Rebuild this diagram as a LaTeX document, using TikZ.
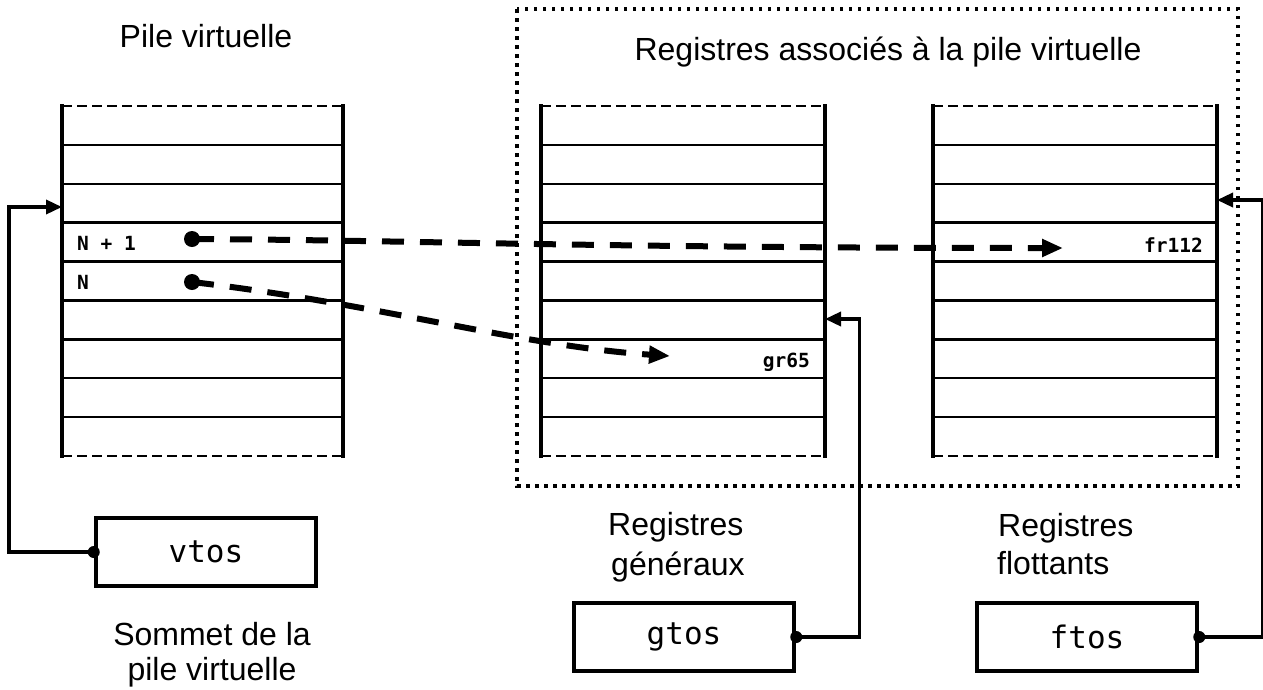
\documentclass[tikz,border=0pt]{standalone}
\usepackage{fontspec}
\setmainfont{Liberation Sans}
\newfontfamily\dvmono{DejaVu Sans Mono}
\usetikzlibrary{arrows.meta,calc}
\begin{document}
\begin{tikzpicture}[x=1pt,y=-1pt,
  lbl/.style={font=\fontsize{32}{38}\selectfont, inner sep=0, anchor=base},
  lblw/.style={lbl, anchor=base west},
  cell/.style={font=\dvmono\bfseries\fontsize{19.5}{22}\selectfont, inner sep=0},
  regbox/.style={draw, line width=4.5pt, fill=white, inner sep=0, minimum width=220pt, minimum height=68pt, font=\dvmono\fontsize{31}{36}\selectfont},
  stackedge/.style={line width=2pt, dash pattern=on 10pt off 5pt},
  stackside/.style={line width=3.5pt},
  rowline/.style={line width=2.5pt},
  bigdash/.style={line width=6pt, dash pattern=on 22pt off 16pt, -{Triangle[length=21pt,width=17pt]}},
  conn/.style={line width=3.5pt, -{Triangle[length=16pt,width=14pt]}},
  bigdot/.style={circle, fill, inner sep=0, minimum size=16pt},
  smalldot/.style={circle, fill, inner sep=0, minimum size=12pt},
  group/.style={line width=4pt, dash pattern=on 3.5pt off 5.5pt}
]
\useasboundingbox (0,0) rectangle (1263,689);
\fill[white] (0,0) rectangle (1263,689);

% group frame
\draw[group] (517,9) rectangle (1238,486);

% stacks
\foreach \n/\l/\r in {lstack/62/343, gstack/541/825, fstack/933/1217} {
  \coordinate (\n-nw) at (\l,106);
  \coordinate (\n-se) at (\r,456);
  \foreach \k in {1,...,8}
    \draw[rowline] (\l,{106+\k*38.89}) -- (\r,{106+\k*38.89});
  \draw[stackedge] (\l,106) -- (\r,106);
  \draw[stackedge] (\l,456) -- (\r,456);
  \draw[stackside] (\l,104) -- (\l,458);
  \draw[stackside] (\r,104) -- (\r,458);
}

% cell labels
\node[cell, anchor=west] (n1) at (77,243) {N + 1};
\node[cell, anchor=west] (n0) at (77,282) {N};
\node[cell, anchor=east] (gr) at (810,362) {gr65};
\node[cell, anchor=east] (fr) at (1203,245) {fr112};

% pointers from the virtual stack
\node[bigdot] (d1) at (192,239) {};
\node[bigdot] (d0) at (192,282) {};
\coordinate (t1) at (1063,248);
\coordinate (t0) at (670,356);
\draw[bigdash] (d1.center) .. controls (400,240) and (600,248) .. (t1);
\draw[bigdash] (d0.center) .. controls (380,304) and (520,346) .. (t0);

% top-of-stack registers
\node[regbox] (vtos) at (206,552) {vtos};
\node[regbox] (gtos) at (684,637) {gtos};
\node[regbox] (ftos) at (1087,637) {ftos};

\coordinate (vin) at (62,207);
\coordinate (gin) at (825,319);
\coordinate (fin) at (1217,200);

\draw[conn] (vtos.west) -- ++(-85,0) |- (vin);
\draw[conn] (gtos.east) -- ++(63,0) |- (gin);
\draw[conn] (ftos.east) -- ++(63,0) |- (fin);
\node[smalldot] at (vtos.west) {};
\node[smalldot] at (gtos.east) {};
\node[smalldot] at (ftos.east) {};

% captions
\node[lbl] (tpile) at (206,47) {Pile virtuelle};
\node[lbl] (tgroup) at (888,60) {Registres associés à la pile virtuelle};
\node[lbl] (ts1) at (212,645) {Sommet de la};
\node[lbl] (ts2) at (212,680) {pile virtuelle};
\node[lblw] (tg1) at (608,535) {Registres};
\node[lblw] (tg2) at (611,575) {généraux};
\node[lblw] (tf1) at (998,536) {Registres};
\node[lblw] (tf2) at (997,574) {flottants};
\end{tikzpicture}
\end{document}
